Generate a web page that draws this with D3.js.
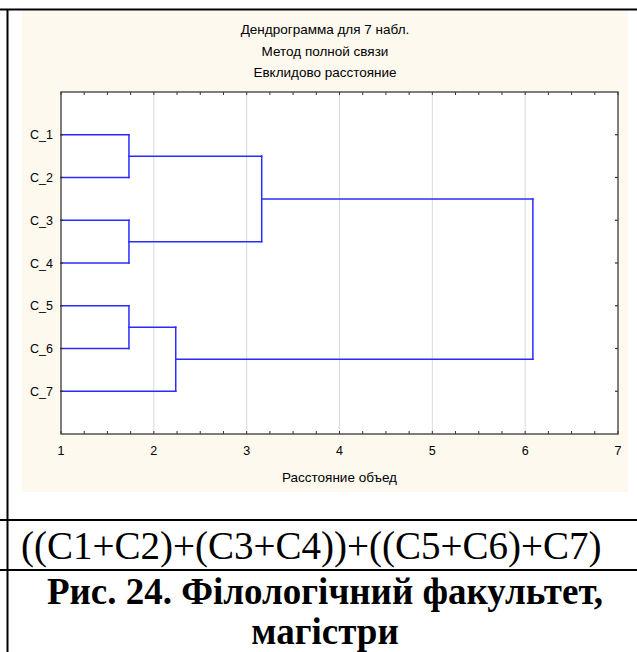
<!DOCTYPE html>
<html>
<head>
<meta charset="utf-8">
<script src="https://cdn.jsdelivr.net/npm/d3@7"></script>
<style>
  html, body { margin: 0; padding: 0; background: #ffffff; }
  svg { display: block; }
</style>
</head>
<body>
<div id="chart"></div>
<script>
// ---------------- data ----------------
const titleLines = ["Дендрограмма для 7 набл.", "Метод полной связи", "Евклидово расстояние"];
const xAxisLabel = "Расстояние объед";
const leaves = ["C_1", "C_2", "C_3", "C_4", "C_5", "C_6", "C_7"];
// merge steps (R hclust convention: negative = leaf index, positive = earlier step)
const mergeA = [-1, -3, -5, 3, 1, 4];
const mergeB = [-2, -4, -6, -7, 2, 5];
const mergeHeight = [1.732, 1.732, 1.732, 2.236, 3.162, 6.083];
const xTicks = [1, 2, 3, 4, 5, 6, 7];
const formulaText = "((C1+C2)+(C3+C4))+((C5+C6)+C7)";
const captionLines = ["Рис. 24. Філологічний факультет,", "магістри"];

// ---------------- layout ----------------
const W = 637, H = 652;
const panel = { left: 22, right: 628, top: 11, bottom: 492 };
const plot = { left: 61, right: 618, top: 92, bottom: 434 };
const svg = d3.select("#chart").append("svg").attr("width", W).attr("height", H);

svg.append("rect").attr("width", W).attr("height", H).attr("fill", "#ffffff");
svg.append("rect").attr("x", panel.left).attr("y", panel.top)
  .attr("width", panel.right - panel.left).attr("height", panel.bottom - panel.top).attr("fill", "#fdf9ef");
svg.append("rect").attr("x", plot.left).attr("y", plot.top)
  .attr("width", plot.right - plot.left).attr("height", plot.bottom - plot.top).attr("fill", "#ffffff");

const x = d3.scaleLinear().domain([1, 7]).range([plot.left, plot.right]).clamp(true);
const y = d3.scaleLinear().domain([0, leaves.length + 1]).range([plot.top, plot.bottom]);

const sans = "'Liberation Sans', Arial, sans-serif";

// gridlines
svg.append("g").selectAll("line").data(xTicks.slice(1, -1)).join("line")
  .attr("x1", d => x(d)).attr("x2", d => x(d))
  .attr("y1", plot.top).attr("y2", plot.bottom)
  .attr("stroke", "#dadada").attr("stroke-width", 1);

// ---------------- dendrogram ----------------
const nodeY = [], nodeH = [];
function pos(id) {
  if (id < 0) return { y: y(-id), h: 0 };
  return { y: nodeY[id - 1], h: nodeH[id - 1] };
}
const segs = [];
mergeA.forEach((a, i) => {
  const b = mergeB[i];
  const pa = pos(a), pb = pos(b), h = mergeHeight[i];
  segs.push([x(pa.h), pa.y, x(h), pa.y]);
  segs.push([x(pb.h), pb.y, x(h), pb.y]);
  segs.push([x(h), pa.y, x(h), pb.y]);
  nodeY.push((pa.y + pb.y) / 2);
  nodeH.push(h);
});
const line = d3.line();
svg.append("g").selectAll("path").data(segs).join("path")
  .attr("d", s => line([[s[0], s[1]], [s[2], s[3]]]))
  .attr("fill", "none").attr("stroke", "#2b2bff").attr("stroke-width", 1.5)
  .attr("stroke-linecap", "square");

// ---------------- axes ----------------
const minor = d3.range(1, 7.001, 0.25);
const axisColor = "#333333";
const axG = svg.append("g");
axG.selectAll("line.bt").data(minor).join("line").attr("class", "bt")
  .attr("x1", d => x(d)).attr("x2", d => x(d))
  .attr("y1", plot.bottom).attr("y2", plot.bottom - 3)
  .attr("stroke", axisColor).attr("stroke-width", 1);
axG.selectAll("line.tt").data(minor).join("line").attr("class", "tt")
  .attr("x1", d => x(d)).attr("x2", d => x(d))
  .attr("y1", plot.top).attr("y2", plot.top + 3)
  .attr("stroke", axisColor).attr("stroke-width", 1);
axG.selectAll("line.lt").data(leaves).join("line").attr("class", "lt")
  .attr("x1", plot.left - 1).attr("x2", plot.left + 2)
  .attr("y1", (d, i) => y(i + 1)).attr("y2", (d, i) => y(i + 1))
  .attr("stroke", axisColor).attr("stroke-width", 1.2);
axG.selectAll("line.rt").data(leaves).join("line").attr("class", "rt")
  .attr("x1", plot.right).attr("x2", plot.right - 3)
  .attr("y1", (d, i) => y(i + 1)).attr("y2", (d, i) => y(i + 1))
  .attr("stroke", axisColor).attr("stroke-width", 1.2);
svg.append("rect").attr("x", plot.left).attr("y", plot.top)
  .attr("width", plot.right - plot.left).attr("height", plot.bottom - plot.top)
  .attr("fill", "none").attr("stroke", "#3a3a3a").attr("stroke-width", 1.3);

// tick labels
svg.append("g").selectAll("text").data(xTicks).join("text")
  .attr("x", d => x(d)).attr("y", 454.5).attr("text-anchor", "middle")
  .attr("font-family", sans).attr("font-size", 12.5).attr("fill", "#000")
  .text(d => d);
svg.append("g").selectAll("text").data(leaves).join("text")
  .attr("x", 53).attr("y", (d, i) => y(i + 1) + 4.5).attr("text-anchor", "end")
  .attr("font-family", sans).attr("font-size", 12.5).attr("fill", "#000")
  .text(d => d);

// titles
const pcx = (panel.left + panel.right) / 2;
svg.append("g").selectAll("text").data(titleLines).join("text")
  .attr("x", pcx).attr("y", (d, i) => 34 + i * 21.5).attr("text-anchor", "middle")
  .attr("font-family", sans).attr("font-size", 13.5).attr("fill", "#000")
  .text(d => d);
svg.append("text").attr("x", (plot.left + plot.right) / 2).attr("y", 482).attr("text-anchor", "middle")
  .attr("font-family", sans).attr("font-size", 13.5).attr("fill", "#000")
  .text(xAxisLabel);

// ---------------- table lines & text ----------------
const tbl = svg.append("g").attr("stroke", "#000").attr("stroke-width", 2);
tbl.append("line").attr("x1", 0).attr("x2", W).attr("y1", 9.5).attr("y2", 9.5);
tbl.append("line").attr("x1", 0).attr("x2", W).attr("y1", 520).attr("y2", 520);
tbl.append("line").attr("x1", 0).attr("x2", W).attr("y1", 570).attr("y2", 570);
tbl.append("line").attr("x1", 7.5).attr("x2", 7.5).attr("y1", 9).attr("y2", H);

const serif = "'Liberation Serif', 'Times New Roman', serif";
svg.append("text").attr("x", 21).attr("y", 559)
  .attr("font-family", serif).attr("font-size", 39).attr("fill", "#000")
  .text(formulaText);
svg.append("g").selectAll("text").data(captionLines).join("text")
  .attr("x", 325).attr("y", (d, i) => 604 + i * 40).attr("text-anchor", "middle")
  .attr("font-family", serif).attr("font-size", 37).attr("font-weight", "bold").attr("fill", "#000")
  .text(d => d);
</script>
</body>
</html>
